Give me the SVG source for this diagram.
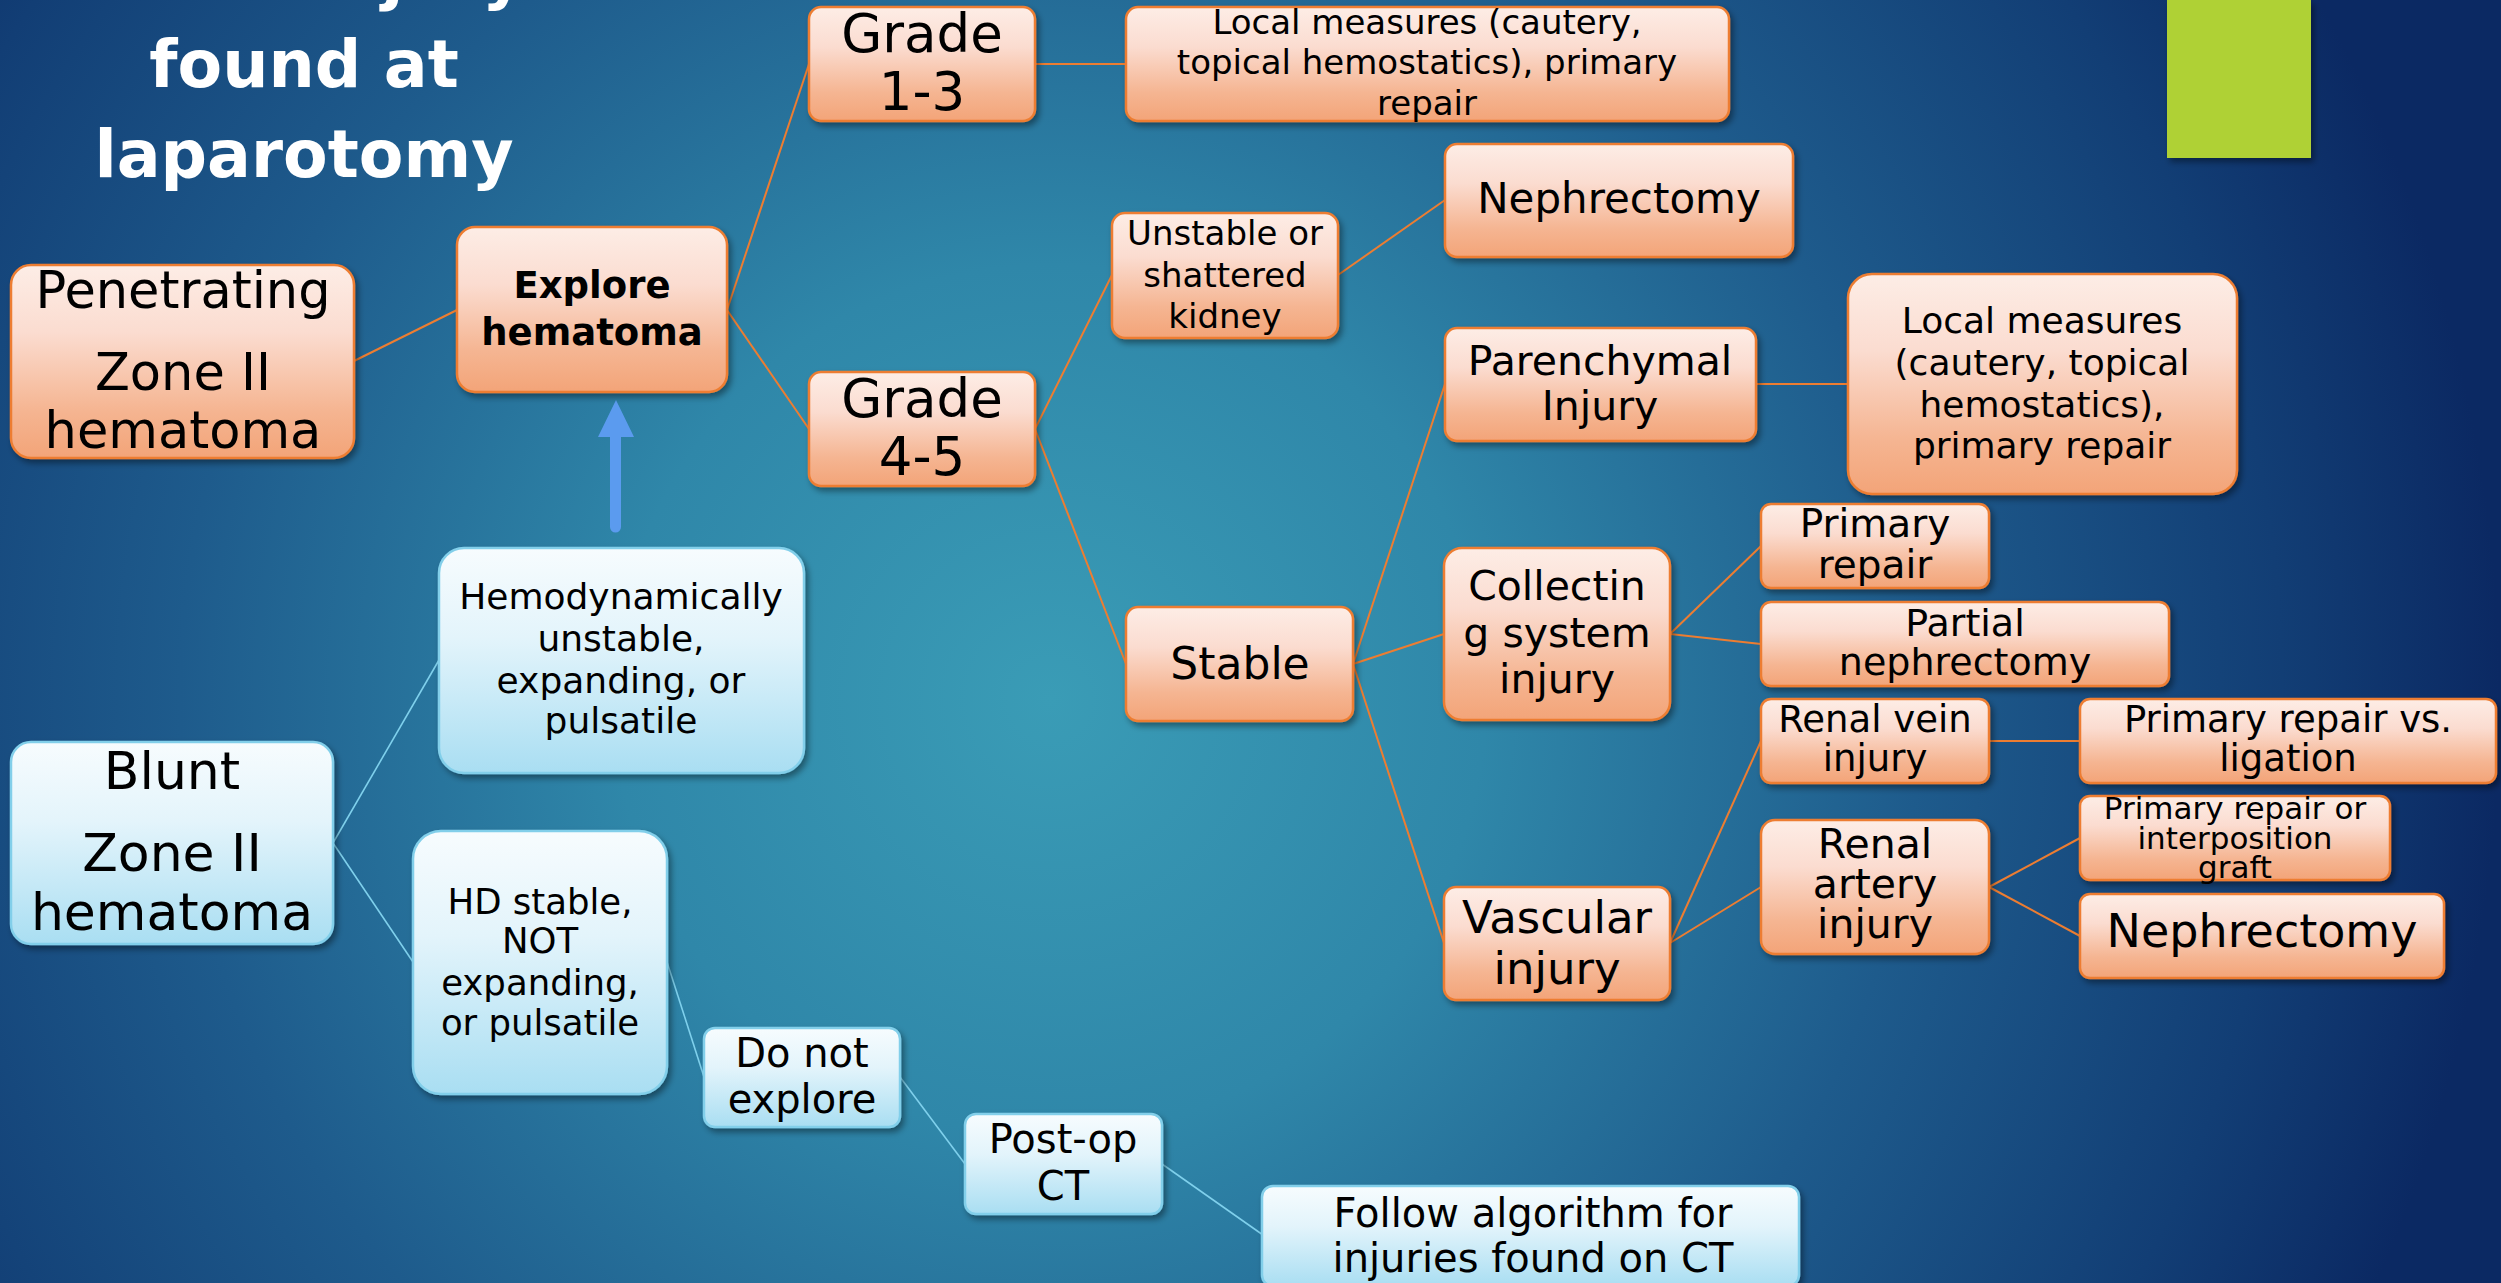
<svg xmlns="http://www.w3.org/2000/svg" width="2501" height="1283" viewBox="0 0 2501 1283">
<defs>
<radialGradient id="bg" gradientUnits="userSpaceOnUse" cx="1050" cy="700" r="1450">
<stop offset="0" stop-color="#3a9cb6"/>
<stop offset="0.3" stop-color="#2f87a9"/>
<stop offset="0.6" stop-color="#1e5b8c"/>
<stop offset="0.85" stop-color="#123e75"/>
<stop offset="1" stop-color="#0b2963"/>
</radialGradient>
<linearGradient id="og" x1="0" y1="0" x2="0" y2="1">
<stop offset="0" stop-color="#fdede6"/>
<stop offset="0.35" stop-color="#fbdcd0"/>
<stop offset="0.75" stop-color="#f5b592"/>
<stop offset="1" stop-color="#f3a478"/>
</linearGradient>
<linearGradient id="bgr" x1="0" y1="0" x2="0" y2="1">
<stop offset="0" stop-color="#f7fcfe"/>
<stop offset="0.4" stop-color="#e3f4fb"/>
<stop offset="1" stop-color="#a9def2"/>
</linearGradient>
<filter id="sh" x="-10%" y="-10%" width="130%" height="140%">
<feDropShadow dx="3" dy="4" stdDeviation="3" flood-color="#000" flood-opacity="0.4"/>
</filter>
<style>
.ob{fill:url(#og);stroke:#ed7d31;stroke-width:2.5;filter:url(#sh)}
.bb{fill:url(#bgr);stroke:#82cfea;stroke-width:2.5;filter:url(#sh)}
.oc{stroke:#ed7d31;stroke-width:2;fill:none}
.bc{stroke:#7fd0ec;stroke-width:1.6;fill:none}
text{font-family:"DejaVu Sans","Liberation Sans",sans-serif;fill:#000;text-anchor:middle}
.title{font-weight:bold;fill:#fff;font-size:65px}
</style>
</defs>
<rect x="0" y="0" width="2501" height="1283" fill="url(#bg)"/>
<g id="title">
<text class="title" x="304" y="-3">Renal injury</text>
<text class="title" x="304" y="87">found at</text>
<text class="title" x="304" y="177">laparotomy</text>
</g>
<rect id="accent" x="2167" y="0" width="144" height="158" fill="#afd136" filter="url(#sh)"/>
<g id="connectors">
<line class="oc" x1="354" y1="361" x2="457" y2="310"/>
<line class="oc" x1="727" y1="310" x2="809" y2="64"/>
<line class="oc" x1="727" y1="310" x2="809" y2="429"/>
<line class="oc" x1="1035" y1="64" x2="1126" y2="64"/>
<line class="oc" x1="1035" y1="429" x2="1112" y2="275"/>
<line class="oc" x1="1035" y1="429" x2="1126" y2="664"/>
<line class="oc" x1="1338" y1="275" x2="1445" y2="200"/>
<line class="oc" x1="1353" y1="664" x2="1445" y2="384"/>
<line class="oc" x1="1353" y1="664" x2="1444" y2="634"/>
<line class="oc" x1="1353" y1="664" x2="1444" y2="943"/>
<line class="oc" x1="1756" y1="384" x2="1848" y2="384"/>
<line class="oc" x1="1670" y1="634" x2="1761" y2="546"/>
<line class="oc" x1="1670" y1="634" x2="1761" y2="644"/>
<line class="oc" x1="1670" y1="943" x2="1761" y2="741"/>
<line class="oc" x1="1670" y1="943" x2="1761" y2="887"/>
<line class="oc" x1="1989" y1="741" x2="2080" y2="741"/>
<line class="oc" x1="1989" y1="887" x2="2080" y2="838"/>
<line class="oc" x1="1989" y1="887" x2="2080" y2="936"/>
<line class="bc" x1="333" y1="843" x2="439" y2="660"/>
<line class="bc" x1="333" y1="843" x2="413" y2="962"/>
<line class="bc" x1="667" y1="962" x2="704" y2="1077"/>
<line class="bc" x1="900" y1="1077" x2="965" y2="1164"/>
<line class="bc" x1="1162" y1="1164" x2="1263" y2="1235"/>
</g>
<g id="arrow">
<path d="M610,437 L610,527 A5.5,5.5 0 0 0 621,527 L621,437 L634,437 L616,400 L598,437 Z" fill="#5b9bef"/>
</g>
<g id="penetrating">
<rect class="ob" x="11" y="265" width="343" height="193" rx="20"/>
<text x="183" y="308" font-size="51">Penetrating</text>
<text x="183" y="390" font-size="51">Zone II</text>
<text x="183" y="448" font-size="51">hematoma</text>
</g>
<g id="explore">
<rect class="ob" x="457" y="227" width="270" height="165" rx="18"/>
<text x="592" y="298" font-size="37" font-weight="bold">Explore</text>
<text x="592" y="345" font-size="37" font-weight="bold">hematoma</text>
</g>
<g id="grade13">
<rect class="ob" x="809" y="7" width="226" height="114" rx="12"/>
<text x="922" y="52" font-size="53">Grade</text>
<text x="922" y="110" font-size="53">1-3</text>
</g>
<g id="local1">
<rect class="ob" x="1126" y="7" width="603" height="114" rx="12"/>
<text x="1427" y="34" font-size="34">Local measures (cautery,</text>
<text x="1427" y="74" font-size="34">topical hemostatics), primary</text>
<text x="1427" y="115" font-size="34">repair</text>
</g>
<g id="grade45">
<rect class="ob" x="809" y="372" width="226" height="114" rx="12"/>
<text x="922" y="417" font-size="53">Grade</text>
<text x="922" y="475" font-size="53">4-5</text>
</g>
<g id="unstable">
<rect class="ob" x="1112" y="213" width="226" height="125" rx="13"/>
<text x="1225" y="245" font-size="34">Unstable or</text>
<text x="1225" y="287" font-size="34">shattered</text>
<text x="1225" y="328" font-size="34">kidney</text>
</g>
<g id="nephrectomy1">
<rect class="ob" x="1445" y="144" width="348" height="113" rx="12"/>
<text x="1619" y="213" font-size="42">Nephrectomy</text>
</g>
<g id="parenchymal">
<rect class="ob" x="1445" y="328" width="311" height="113" rx="12"/>
<text x="1600" y="375" font-size="41">Parenchymal</text>
<text x="1600" y="420" font-size="41">Injury</text>
</g>
<g id="local2">
<rect class="ob" x="1848" y="274" width="389" height="220" rx="24"/>
<text x="2042" y="333" font-size="36">Local measures</text>
<text x="2042" y="375" font-size="36">(cautery, topical</text>
<text x="2042" y="417" font-size="36">hemostatics),</text>
<text x="2042" y="458" font-size="36">primary repair</text>
</g>
<g id="stable">
<rect class="ob" x="1126" y="607" width="227" height="114" rx="12"/>
<text x="1240" y="679" font-size="44">Stable</text>
</g>
<g id="collecting">
<rect class="ob" x="1444" y="548" width="226" height="172" rx="18"/>
<text x="1557" y="600" font-size="41">Collectin</text>
<text x="1557" y="647" font-size="41">g system</text>
<text x="1557" y="693" font-size="41">injury</text>
</g>
<g id="vascular">
<rect class="ob" x="1444" y="887" width="226" height="113" rx="12"/>
<text x="1557" y="933" font-size="45">Vascular</text>
<text x="1557" y="984" font-size="45">injury</text>
</g>
<g id="primaryrepair">
<rect class="ob" x="1761" y="504" width="228" height="84" rx="10"/>
<text x="1875" y="537" font-size="39">Primary</text>
<text x="1875" y="578" font-size="39">repair</text>
</g>
<g id="partial">
<rect class="ob" x="1761" y="602" width="408" height="84" rx="10"/>
<text x="1965" y="636" font-size="38">Partial</text>
<text x="1965" y="675" font-size="38">nephrectomy</text>
</g>
<g id="renalvein">
<rect class="ob" x="1761" y="699" width="228" height="84" rx="10"/>
<text x="1875" y="732" font-size="37">Renal vein</text>
<text x="1875" y="771" font-size="37">injury</text>
</g>
<g id="ligation">
<rect class="ob" x="2080" y="699" width="416" height="84" rx="10"/>
<text x="2288" y="732" font-size="37">Primary repair vs.</text>
<text x="2288" y="771" font-size="37">ligation</text>
</g>
<g id="renalartery">
<rect class="ob" x="1761" y="820" width="228" height="134" rx="14"/>
<text x="1875" y="858" font-size="41">Renal</text>
<text x="1875" y="898" font-size="41">artery</text>
<text x="1875" y="938" font-size="41">injury</text>
</g>
<g id="interposition">
<rect class="ob" x="2080" y="796" width="310" height="84" rx="10"/>
<text x="2235" y="819" font-size="31">Primary repair or</text>
<text x="2235" y="849" font-size="31">interposition</text>
<text x="2235" y="878" font-size="31">graft</text>
</g>
<g id="nephrectomy2">
<rect class="ob" x="2080" y="894" width="364" height="84" rx="10"/>
<text x="2262" y="947" font-size="46">Nephrectomy</text>
</g>
<g id="blunt">
<rect class="bb" x="11" y="742" width="322" height="202" rx="20"/>
<text x="172" y="789" font-size="52">Blunt</text>
<text x="172" y="871" font-size="52">Zone II</text>
<text x="172" y="930" font-size="52">hematoma</text>
</g>
<g id="unstablehd">
<rect class="bb" x="439" y="548" width="365" height="225" rx="25"/>
<text x="621" y="609" font-size="36">Hemodynamically</text>
<text x="621" y="651" font-size="36">unstable,</text>
<text x="621" y="693" font-size="36">expanding, or</text>
<text x="621" y="733" font-size="36">pulsatile</text>
</g>
<g id="hdstable">
<rect class="bb" x="413" y="831" width="254" height="263" rx="28"/>
<text x="540" y="914" font-size="35.5">HD stable,</text>
<text x="540" y="953" font-size="35.5">NOT</text>
<text x="540" y="995" font-size="35.5">expanding,</text>
<text x="540" y="1035" font-size="35.5">or pulsatile</text>
</g>
<g id="donotexplore">
<rect class="bb" x="704" y="1028" width="196" height="99" rx="11"/>
<text x="802" y="1067" font-size="40">Do not</text>
<text x="802" y="1113" font-size="40">explore</text>
</g>
<g id="postop">
<rect class="bb" x="965" y="1114" width="197" height="100" rx="11"/>
<text x="1063" y="1153" font-size="40">Post-op</text>
<text x="1063" y="1200" font-size="40">CT</text>
</g>
<g id="follow">
<rect class="bb" x="1262" y="1186" width="537" height="100" rx="11"/>
<text x="1533" y="1227" font-size="40">Follow algorithm for</text>
<text x="1533" y="1272" font-size="40">injuries found on CT</text>
</g>
</svg>
